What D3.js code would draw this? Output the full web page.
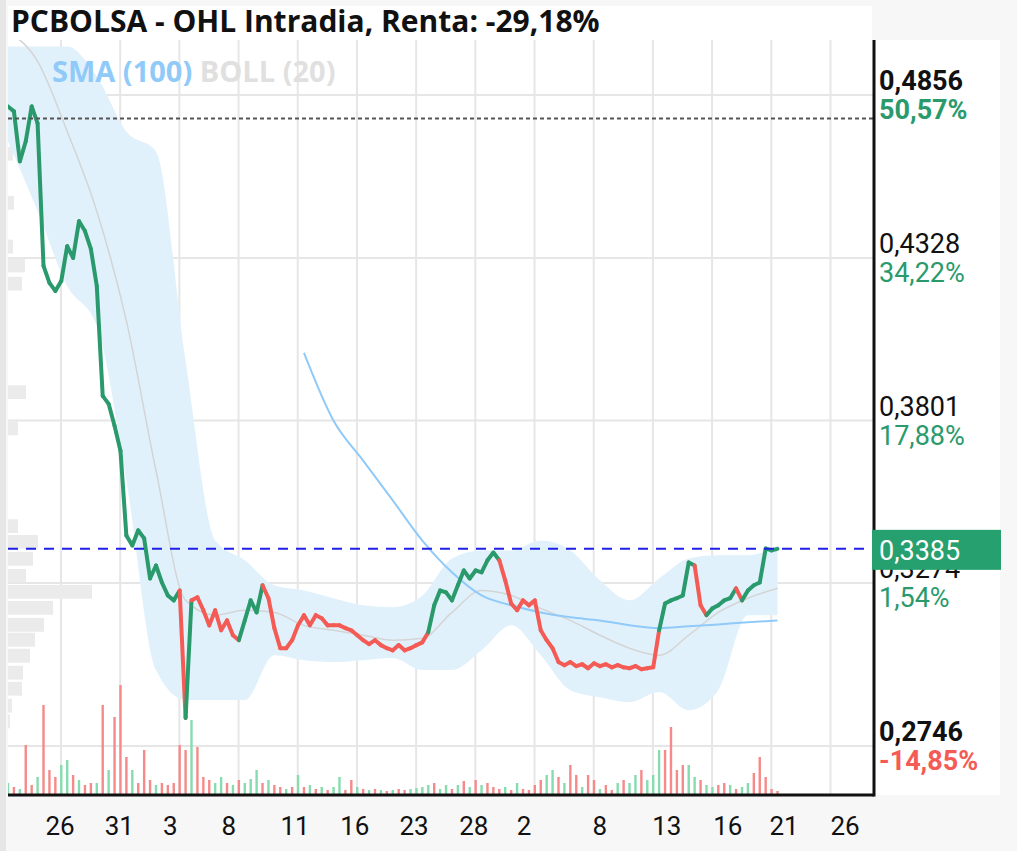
<!DOCTYPE html>
<html>
<head>
<meta charset="utf-8">
<script src="https://cdn.jsdelivr.net/npm/d3@7"></script>
<style>
  body { margin: 0; background: #f7f7f7; font-family: Roboto, sans-serif; }
</style>
</head>
<body>
<svg id="chart" width="1017" height="851"></svg>
<script>
// precios intradia, un punto por paso
const prices = [0.4819,0.4803,0.4641,0.4706,0.4819,0.4764,0.4302,0.4247,0.4221,0.4253,
  0.4366,0.4328,0.4447,0.4415,0.4357,0.4237,0.3881,0.3855,0.3784,0.3703,
  0.3428,0.3396,0.3445,0.3419,0.3289,0.3331,0.3276,0.3234,0.3218,0.3250,
  0.2837,0.3218,0.3228,0.3186,0.3137,0.3186,0.3121,0.3153,0.3105,0.3089,
  0.3153,0.3218,0.3179,0.3267,0.3225,0.3128,0.3063,0.3063,0.3089,0.3137,
  0.3170,0.3137,0.3170,0.3160,0.3137,0.3137,0.3137,0.3128,0.3121,0.3105,
  0.3089,0.3076,0.3089,0.3073,0.3063,0.3056,0.3073,0.3056,0.3063,0.3073,
  0.3082,0.3115,0.3202,0.3250,0.3244,0.3218,0.3267,0.3315,0.3289,0.3315,
  0.3309,0.3348,0.3373,0.3348,0.3283,0.3208,0.3186,0.3218,0.3202,0.3218,
  0.3121,0.3089,0.3063,0.3018,0.3008,0.3018,0.3005,0.3011,0.2998,0.3014,
  0.3005,0.3011,0.3001,0.3008,0.3001,0.2998,0.3005,0.2995,0.2998,0.3001,
  0.3121,0.3208,0.3218,0.3225,0.3234,0.3341,0.3331,0.3202,0.3170,0.3192,
  0.3202,0.3218,0.3225,0.3257,0.3218,0.3250,0.3267,0.3276,0.3386,0.3380,0.3385];
// tramos de color (g = sube, r = baja)
const trendRuns = [['g',30],['r',1],['g',1],['r',8],['g',4],['r',28],['g',12],['r',27],['g',6],['r',2],['g',5],['r',1],['g',6]];
// bandas cada 5 puntos
const bollUpper = [0.5013,0.5013,0.5013,0.4916,0.4738,0.4673,0.3994,0.3412,0.3348,0.3267,0.3250,0.3225,0.3202,0.3196,
  0.3234,0.3354,0.3380,0.3380,0.3412,0.3380,0.3283,0.3218,0.3289,0.3354,0.3364,0.3364,0.3396];
const bollLower = [0.4706,0.4479,0.4237,0.4108,0.3606,0.2992,0.2895,0.2895,0.2895,0.3040,0.3024,0.3018,0.3024,0.3031,
  0.2992,0.2992,0.3056,0.3137,0.3040,0.2927,0.2904,0.2888,0.2921,0.2862,0.2927,0.3170,0.3170];
const bollMid = [0.5062,0.4965,0.4738,0.4479,0.4124,0.3639,0.3218,0.3170,0.3186,0.3179,0.3137,0.3121,0.3105,0.3089,
  0.3095,0.3179,0.3250,0.3234,0.3192,0.3153,0.3105,0.3063,0.3040,0.3105,0.3179,0.3225,0.3257];
const smaStart = 50;
const sma = [0.4020,0.3800,0.3671,0.3542,0.3412,0.3309,0.3234,0.3202,0.3179,0.3163,0.3153,0.3137,0.3128,0.3134,0.3140,0.3147,0.3153];
// volumen por punto
const volume = [12,8,6,50,10,18,90,25,18,30,35,20,15,10,12,12,90,25,78,110,38,25,12,45,15,10,12,10,12,50,
  45,75,48,18,15,12,18,12,10,15,12,16,25,12,15,10,8,6,8,20,8,10,6,8,5,8,18,5,15,8,
  6,5,6,5,4,5,6,5,6,7,8,10,12,6,10,6,10,14,8,15,10,12,8,6,8,5,12,6,5,10,
  15,20,25,18,12,30,20,8,20,15,6,10,5,12,15,12,20,25,15,20,45,45,68,25,30,30,18,15,10,8,
  10,12,10,6,8,12,22,38,18,6,4];
const volColor = 'grgrrgrrrggrgrrgrgrrrgrrrgrrrrrgrrrggrgrgggrgrrgrgrgrgrggrrgrgrgrgrrggggrggrgrgrgrrrgrgrrrrggrgrrgrrgrrgrggrgggrrrrggrggrrgrgg';
// perfil de volumen a la izquierda
const profilePrice = [0.4664,0.4505,0.4363,0.4302,0.4243,0.3891,0.3774,0.3457,0.3406,0.3351,0.3296,0.3244,0.3192,0.3137,0.3089,0.3037,0.2982,0.2930,0.2875,0.2824];
const profileVol = [5,6,5,17,14,18,10,10,30,25,18,84,45,36,27,22,15,14,4,2];
// eje de precios
const priceTicks = [0.4856,0.4328,0.3801,0.3274,0.2746];
const pctTicks = ['50,57%','34,22%','17,88%','1,54%','-14,85%'];
const maxLine = 0.4780;
const lastPrice = 0.3385;
// eje de fechas
const gridPos = [8.95,18.95,28.95,38.95,48.95,58.95,68.95,78.95,88.95,98.95,108.95,118.95,128.95,138.95];
const dayLabels = ['26','31','3','8','11','16','23','28','2','8','13','16','21','26'];
const dayPos = [8.8,18.8,27.4,37.3,48.5,58.6,68.6,78.7,87.2,100,111.3,121.6,131.1,141.4];

const GREEN = '#2a9a6c', RED = '#f45b55';
const L = 8, R = 874, T = 40, B = 795;

const svg = d3.select('#chart');
const x = d3.scaleLinear().domain([0, 146.3]).range([L, R]);
const y = d3.scaleLinear().domain([0.2746, 0.4856]).range([746, 95]);
const vy = d3.scaleLinear().domain([0, 110]).range([B, B - 110]);
const pw = d3.scaleLinear().domain([0, 100]).range([0, 100]);

// fondos
svg.append('rect').attr('x', L).attr('y', 6).attr('width', R - L - 2).attr('height', T - 6).attr('fill', '#fff');
svg.append('rect').attr('x', L).attr('y', T).attr('width', 1000 - L).attr('height', B - T).attr('fill', '#fff');
svg.append('rect').attr('x', 0).attr('y', 0).attr('width', 6).attr('height', 851).attr('fill', '#e6e6e6');

svg.append('defs').append('clipPath').attr('id', 'plot')
  .append('rect').attr('x', L).attr('y', T).attr('width', R - L).attr('height', B - T);
const g = svg.append('g').attr('clip-path', 'url(#plot)');

// rejilla
g.selectAll('.hg').data(priceTicks).enter().append('line')
  .attr('x1', L).attr('x2', R).attr('y1', d => y(d)).attr('y2', d => y(d))
  .attr('stroke', '#e6e6e6').attr('stroke-width', 2);
g.selectAll('.vg').data(gridPos).enter().append('line')
  .attr('x1', d => x(d)).attr('x2', d => x(d)).attr('y1', T).attr('y2', B)
  .attr('stroke', '#e6e6e6').attr('stroke-width', 2);

// perfil de volumen
g.selectAll('.pf').data(profilePrice).enter().append('rect')
  .attr('x', L).attr('y', d => y(d + 0.0024)).attr('height', d => y(d - 0.0024) - y(d + 0.0024) - 1)
  .attr('width', (d, i) => pw(profileVol[i])).attr('fill', '#ebebeb');

// bollinger
const bIdx = bollUpper.map((d, i) => i * 5);
g.append('path').datum(bIdx)
  .attr('d', d3.area().x(d => x(d)).y0((d, i) => y(bollLower[i])).y1((d, i) => y(bollUpper[i])).curve(d3.curveMonotoneX))
  .attr('fill', '#e1f1fc');
g.append('path').datum(bIdx)
  .attr('d', d3.line().x(d => x(d)).y((d, i) => y(bollMid[i])).curve(d3.curveMonotoneX))
  .attr('fill', 'none').attr('stroke', '#d4d4d4').attr('stroke-width', 1.5);
// sma
g.append('path').datum(sma)
  .attr('d', d3.line().x((d, i) => x(smaStart + i * 5)).y(d => y(d)).curve(d3.curveMonotoneX))
  .attr('fill', 'none').attr('stroke', '#90caf9').attr('stroke-width', 2);

// volumen
g.selectAll('.vol').data(volume).enter().append('rect')
  .attr('x', (d, i) => x(i) - 1.2).attr('width', 2.4)
  .attr('y', d => vy(d)).attr('height', d => B - vy(d))
  .attr('fill', (d, i) => volColor[i] === 'g' ? '#86dcae' : '#f68a8a');

// precio
const trend = trendRuns.flatMap(([c, n]) => Array(n).fill(c));
const segs = d3.range(1, prices.length).map(i => [i - 1, i]);
g.selectAll('.seg').data(segs).enter().append('line')
  .attr('x1', d => x(d[0])).attr('y1', d => y(prices[d[0]]))
  .attr('x2', d => x(d[1])).attr('y2', d => y(prices[d[1]]))
  .attr('stroke', d => trend[d[1]] === 'g' ? GREEN : RED)
  .attr('stroke-width', 4).attr('stroke-linecap', 'round');

// lineas de referencia
g.append('line').attr('x1', L).attr('x2', R).attr('y1', y(maxLine)).attr('y2', y(maxLine))
  .attr('stroke', '#555').attr('stroke-width', 2).attr('stroke-dasharray', '4,3');
g.append('line').attr('x1', L).attr('x2', R).attr('y1', y(lastPrice)).attr('y2', y(lastPrice))
  .attr('stroke', '#1f1fe8').attr('stroke-width', 2).attr('stroke-dasharray', '10,8');

// leyenda
const leg = svg.append('text').attr('x', 52).attr('y', 82).attr('font-size', 29)
  .attr('font-family', 'Open Sans').attr('font-weight', 'bold');
leg.append('tspan').attr('fill', '#90caf9').text('SMA (100) ');
leg.append('tspan').attr('fill', '#e0e0e0').text('BOLL (20)');

// ejes
svg.append('line').attr('x1', R).attr('x2', R).attr('y1', T).attr('y2', B + 1.5).attr('stroke', '#111').attr('stroke-width', 3);
svg.append('line').attr('x1', L).attr('x2', R).attr('y1', B).attr('y2', B).attr('stroke', '#111').attr('stroke-width', 3);

const lab = svg.append('g').attr('font-size', 27);
priceTicks.forEach((p, i) => {
  const bold = i === 0 || i === priceTicks.length - 1;
  lab.append('text').attr('x', 879).attr('y', y(p) - 5).attr('fill', '#111')
    .attr('font-weight', bold ? 'bold' : 'normal').text(d3.format('.4f')(p).replace('.', ','));
  lab.append('text').attr('x', 879).attr('y', y(p) + 24)
    .attr('fill', pctTicks[i][0] === '-' ? RED : GREEN)
    .attr('font-weight', bold ? 'bold' : 'normal').text(pctTicks[i]);
});
svg.append('rect').attr('x', 872).attr('y', y(lastPrice) - 19).attr('width', 129).attr('height', 40).attr('fill', '#26a06e');
svg.append('text').attr('x', 879).attr('y', y(lastPrice) + 11).attr('font-size', 27).attr('fill', '#fff')
  .text(d3.format('.4f')(lastPrice).replace('.', ','));

svg.append('g').selectAll('text').data(dayLabels).enter().append('text')
  .attr('x', (d, i) => x(dayPos[i])).attr('y', 835).attr('text-anchor', 'middle')
  .attr('font-size', 26).attr('fill', '#111').text(d => d);

// titulo
svg.append('text').attr('x', 11).attr('y', 32).attr('font-size', 30).attr('font-weight', 'bold')
  .attr('font-family', 'Open Sans').attr('fill', '#111').text('PCBOLSA - OHL Intradia, Renta: -29,18%');
</script>
</body>
</html>
